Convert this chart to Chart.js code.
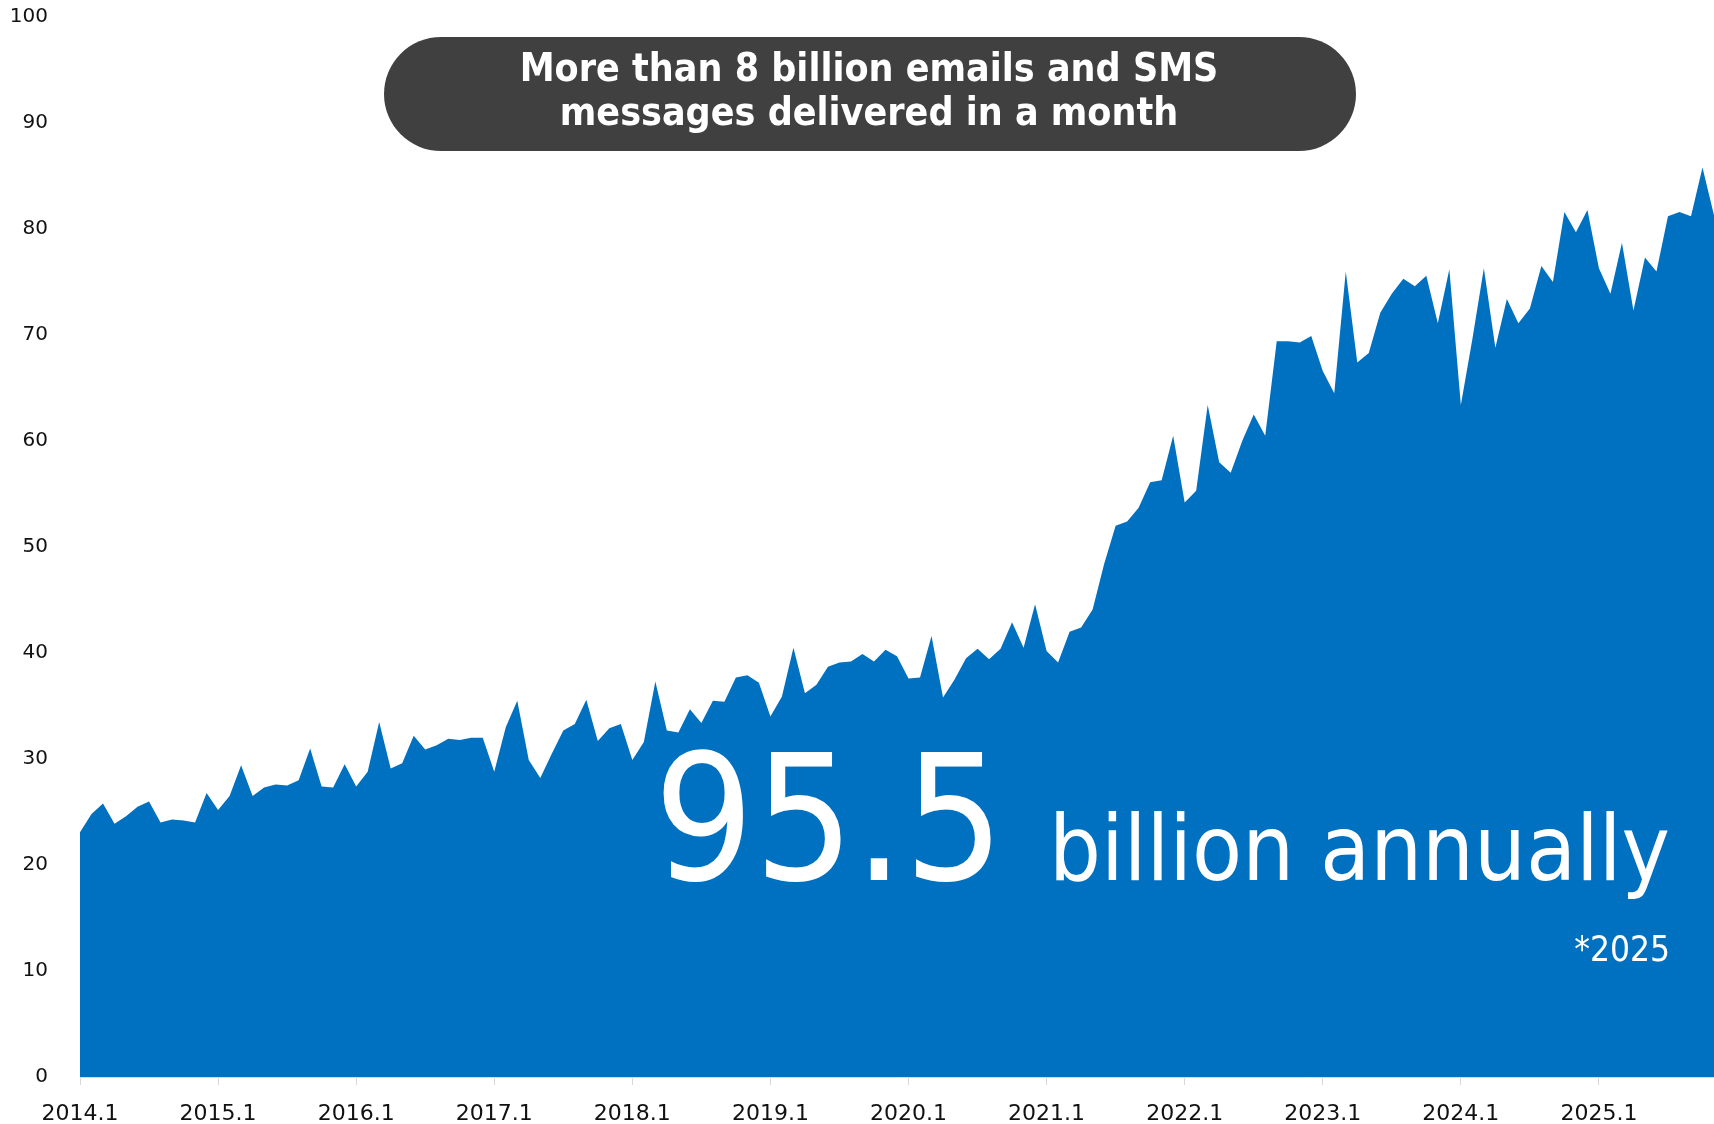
<!DOCTYPE html>
<html>
<head>
<meta charset="utf-8">
<title>Monthly email and SMS deliveries</title>
<script src="https://cdn.jsdelivr.net/npm/chart.js@4.4.1/dist/chart.umd.min.js"></script>
<style>
  html, body { margin: 0; padding: 0; background: #ffffff; overflow: hidden; }
  canvas { display: block; }
</style>
</head>
<body>
<canvas id="chart" width="1714" height="1124"></canvas>
<script>
// Monthly deliveries (emails + SMS), in units of 100 million messages
const years = [2014, 2015, 2016, 2017, 2018, 2019, 2020, 2021, 2022, 2023, 2024, 2025];

const v2014 = [23.1, 24.8, 25.8, 23.9, 24.6, 25.5, 26.0, 24.0, 24.3, 24.2, 24.0, 26.8];
const v2015 = [25.2, 26.5, 29.4, 26.5, 27.3, 27.6, 27.5, 28.0, 31.0, 27.4, 27.3, 29.5];
const v2016 = [27.4, 28.8, 33.5, 29.1, 29.6, 32.2, 30.9, 31.3, 31.9, 31.8, 32.0, 32.0];
const v2017 = [28.8, 33.0, 35.5, 29.9, 28.2, 30.5, 32.7, 33.3, 35.6, 31.7, 32.9, 33.3];
const v2018 = [29.9, 31.6, 37.3, 32.7, 32.5, 34.7, 33.4, 35.5, 35.4, 37.7, 37.9, 37.2];
const v2019 = [34.0, 35.9, 40.5, 36.2, 37.0, 38.7, 39.1, 39.2, 39.9, 39.2, 40.3, 39.7];
const v2020 = [37.6, 37.7, 41.6, 35.8, 37.5, 39.5, 40.4, 39.4, 40.4, 42.9, 40.5, 44.6];
const v2021 = [40.2, 39.1, 42.0, 42.4, 44.1, 48.4, 52.0, 52.4, 53.7, 56.1, 56.3, 60.5];
const v2022 = [54.2, 55.3, 63.4, 58.0, 57.0, 60.0, 62.5, 60.5, 69.4, 69.4, 69.3, 69.9];
const v2023 = [66.6, 64.5, 76.0, 67.4, 68.3, 72.1, 73.9, 75.3, 74.6, 75.6, 71.1, 76.2];
const v2024 = [63.4, 69.6, 76.3, 68.8, 73.4, 71.1, 72.5, 76.5, 75.0, 81.6, 79.7, 81.8];
const v2025 = [76.3, 73.9, 78.7, 72.3, 77.3, 76.0, 81.2, 81.6, 81.2, 85.8, 81.3];

const yearlyValues = [v2014, v2015, v2016, v2017, v2018, v2019, v2020, v2021, v2022, v2023, v2024, v2025];

// Category labels "YYYY.M"
const categories = [];
const values = [];
years.forEach((yr, k) => {
  yearlyValues[k].forEach((v, m) => {
    categories.push(yr + '.' + (m + 1));
    values.push(v);
  });
});

const yTicks = { min: 0, max: 100, step: 10 };

const headline = ['More than 8 billion emails and SMS', 'messages delivered in a month'];
const annualValue = '95.5';
const annualUnit = 'billion annually';
const annualNote = '*2025';

const AREA_BLUE = '#0070C0';
const AXIS_GREY = '#d9d9d9';
const CONDENSED = "'DejaVu Sans Condensed', 'DejaVu Sans', sans-serif";

// Headline pill and the annual total drawn over the plot
const overlay = {
  id: 'overlay',
  afterDraw(chart) {
    const c = chart.ctx;
    c.save();

    const x0 = 384, x1 = 1356, y0 = 37, y1 = 151;
    const r = (y1 - y0) / 2;
    c.fillStyle = '#404040';
    c.beginPath();
    c.moveTo(x0 + r, y0);
    c.lineTo(x1 - r, y0);
    c.arc(x1 - r, y0 + r, r, -Math.PI / 2, Math.PI / 2);
    c.lineTo(x0 + r, y1);
    c.arc(x0 + r, y0 + r, r, Math.PI / 2, Math.PI * 1.5);
    c.closePath();
    c.fill();

    c.fillStyle = '#ffffff';
    c.textBaseline = 'alphabetic';
    c.textAlign = 'center';
    c.font = 'bold 39px ' + CONDENSED;
    c.fillText(headline[0], 869, 81);
    c.fillText(headline[1], 869, 125);

    c.font = '175px ' + CONDENSED;
    c.fillText(annualValue, 829, 880);

    c.textAlign = 'right';
    c.font = '91px ' + CONDENSED;
    c.fillText(annualUnit, 1670, 880);

    c.font = '35px ' + CONDENSED;
    c.fillText(annualNote, 1670, 961);

    c.restore();
  }
};

new Chart(document.getElementById('chart'), {
  type: 'line',
  data: {
    labels: categories,
    datasets: [{
      data: values,
      fill: 'origin',
      backgroundColor: AREA_BLUE,
      borderColor: AREA_BLUE,
      borderWidth: 0,
      pointRadius: 0,
      pointHoverRadius: 0,
      tension: 0
    }]
  },
  options: {
    responsive: false,
    animation: false,
    devicePixelRatio: 1,
    layout: { padding: { top: 17, right: 0, bottom: 0, left: 0 } },
    plugins: {
      legend: { display: false },
      tooltip: { enabled: false },
      title: { display: false }
    },
    scales: {
      x: {
        type: 'category',
        offset: false,
        z: 1,
        border: { display: true, color: AXIS_GREY, width: 1 },
        grid: {
          drawOnChartArea: false,
          drawTicks: true,
          tickLength: 8,
          lineWidth: 1,
          color: (ctx) => (ctx.index % 12 === 0 ? AXIS_GREY : 'rgba(0,0,0,0)')
        },
        ticks: {
          autoSkip: false,
          maxRotation: 0,
          minRotation: 0,
          padding: 0,
          color: '#111111',
          font: { family: 'DejaVu Sans', size: 22, lineHeight: 2.7 },
          callback: function (value) {
            const label = this.getLabelForValue(value);
            return label.split('.')[1] === '1' ? label : '';
          }
        },
        afterFit: (scale) => { scale.height = 47; }
      },
      y: {
        min: yTicks.min,
        max: yTicks.max,
        border: { display: false },
        grid: {
          display: true,
          drawOnChartArea: false,
          drawTicks: true,
          tickLength: 32,
          color: 'rgba(0,0,0,0)'
        },
        ticks: {
          stepSize: yTicks.step,
          padding: 0,
          color: '#111111',
          font: { family: 'DejaVu Sans', size: 20 }
        },
        afterFit: (scale) => { scale.width = 80; }
      }
    }
  },
  plugins: [overlay]
});
</script>
</body>
</html>
